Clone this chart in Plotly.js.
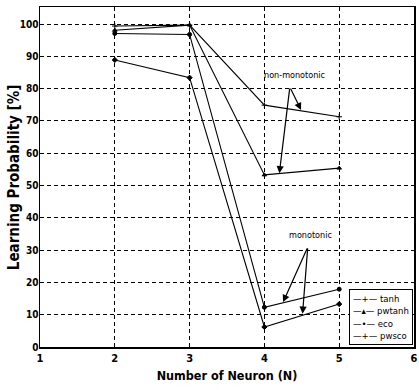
<!DOCTYPE html>
<html><head><meta charset="utf-8">
<script src="https://cdn.plot.ly/plotly-3.0.1.min.js"></script>
<style>html,body{margin:0;padding:0;background:#fff}</style>
</head><body>
<div id="chart" style="width:419px;height:390px"></div>
<script>
const neurons = [2, 3, 4, 5];
const seriesNames = ['tanh', 'pwtanh', 'eco', 'pwsco'];
const tanhVals   = [99.4, 99.7, 74.9, 71.3];
const pwtanhVals = [98.1, 99.7, 53.3, 55.4];
const ecoVals    = [97.1, 96.8, 12.3, 17.9];
const pwscoVals  = [88.9, 83.4, 6.2, 13.3];
const xTicks = [1, 2, 3, 4, 5, 6];
const yTicks = [0, 10, 20, 30, 40, 50, 60, 70, 80, 90, 100];
const yTitle = 'Learning Probability [%]';
const xTitle = 'Number of Neuron (N)';

const FONT = '"DejaVu Sans Condensed", "Liberation Sans Narrow", "Arial Narrow", "Liberation Sans", Arial, sans-serif';
const symbols = ['cross-thin', 'triangle-up', 'circle', 'diamond'];
const legendGlyphs = ['—+—', '—▴—', '—•—', '—+—'];
const allVals = [tanhVals, pwtanhVals, ecoVals, pwscoVals];
const traces = allVals.map((v, i) => ({
  x: neurons, y: v, name: seriesNames[i], type: 'scatter', mode: 'lines+markers',
  line: {color: '#000', width: 1.1},
  marker: {color: '#000', size: 4, symbol: symbols[i], line: {color: '#000', width: 1}}
}));

const arrowStyle = {axref: 'x', ayref: 'y', showarrow: true, arrowhead: 2, arrowsize: 1.2,
  arrowwidth: 1.2, arrowcolor: '#000', text: ''};
const annotations = [
  {x: 4.40, y: 84.3, text: 'non-monotonic', showarrow: false, font: {family: FONT, size: 9, color: '#000'}},
  Object.assign({x: 4.49, y: 73.4, ax: 4.34, ay: 80.5}, arrowStyle),
  Object.assign({x: 4.20, y: 53.8, ax: 4.34, ay: 80.5}, arrowStyle),
  {x: 4.62, y: 34.8, text: 'monotonic', showarrow: false, font: {family: FONT, size: 9, color: '#000'}},
  Object.assign({x: 4.25, y: 13.9, ax: 4.58, ay: 31.0}, arrowStyle),
  Object.assign({x: 4.51, y: 10.3, ax: 4.58, ay: 31.0}, arrowStyle),
  // y-axis title
  {xref: 'paper', yref: 'paper', x: -0.069, y: 0.5, xanchor: 'center', yanchor: 'middle',
   textangle: -90, showarrow: false, text: yTitle,
   font: {family: FONT, size: 15, color: '#000', weight: 'bold'}},
  // legend box built from the series names
  {xref: 'paper', yref: 'paper', x: 0.997, y: 0.006, xanchor: 'right', yanchor: 'bottom',
   showarrow: false, align: 'left', bgcolor: '#fff', bordercolor: '#000', borderwidth: 1, borderpad: 3,
   text: seriesNames.map((n, i) => legendGlyphs[i] + ' ' + n).join('<br>'),
   font: {family: FONT, size: 9.5, color: '#000'}}
];

const layout = {
  width: 419, height: 390,
  margin: {l: 40, r: 5, t: 7, b: 43},
  paper_bgcolor: '#fff', plot_bgcolor: '#fff',
  font: {family: FONT, color: '#000'},
  showlegend: false,
  xaxis: {range: [1, 6], tickvals: xTicks, ticktext: xTicks.map(String), showgrid: true,
    gridcolor: '#000', griddash: '4px,3px', gridwidth: 1, zeroline: false,
    showline: true, linecolor: '#000', linewidth: 1.5, mirror: true, ticks: '',
    tickfont: {family: FONT, size: 11, color: '#000', weight: 'bold'},
    title: {text: xTitle, font: {family: FONT, size: 12.5, color: '#000', weight: 'bold'}, standoff: 7}},
  yaxis: {range: [0, 105.3], tickvals: yTicks, ticktext: yTicks.map(String), showgrid: true,
    gridcolor: '#000', griddash: '4px,3px', gridwidth: 1, zeroline: false,
    showline: true, linecolor: '#000', linewidth: 1.5, mirror: true, ticks: '',
    ticklabelstandoff: -2,
    tickfont: {family: FONT, size: 10, color: '#000', weight: 'bold'}},
  annotations: annotations
};
Plotly.newPlot('chart', traces, layout, {displayModeBar: false, staticPlot: true});
</script>
</body></html>
